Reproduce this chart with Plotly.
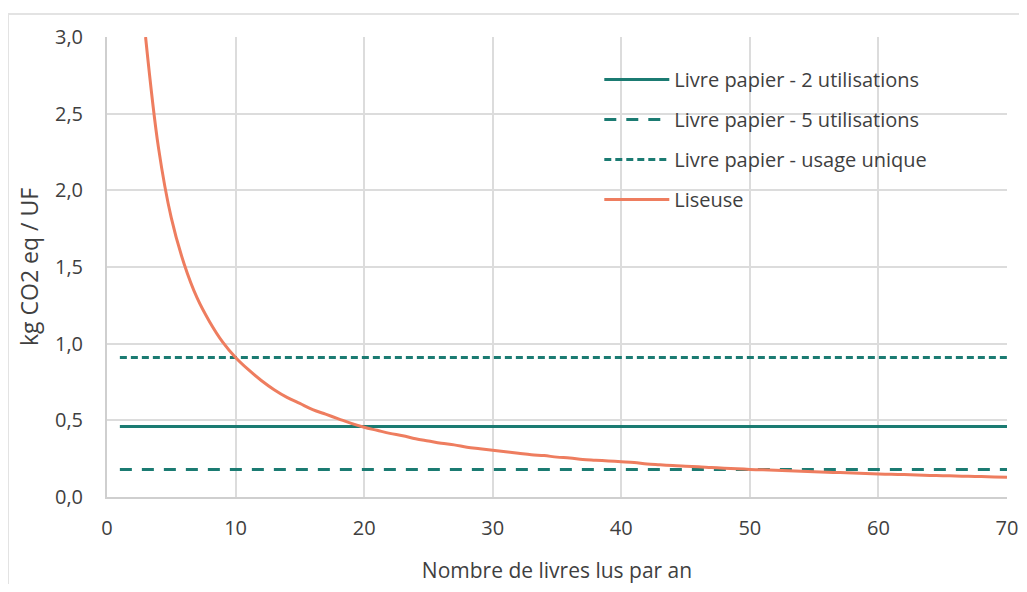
import plotly.graph_objects as go

# Data
x_ref = [1, 70]
papier_2 = [0.46, 0.46]
papier_5 = [0.18, 0.18]
papier_unique = [0.91, 0.91]

liseuse_x = list(range(3, 71))
liseuse_y = [3.00, 2.28, 1.82, 1.52, 1.30, 1.14, 1.01, 0.91, 0.83, 0.76,
             0.70, 0.65, 0.61, 0.57, 0.54, 0.51, 0.48, 0.455, 0.435, 0.415,
             0.40, 0.38, 0.365, 0.35, 0.34, 0.325, 0.315, 0.305, 0.295, 0.285,
             0.275, 0.27, 0.26, 0.255, 0.245, 0.24, 0.235, 0.23, 0.225, 0.215,
             0.21, 0.205, 0.20, 0.197, 0.192, 0.188, 0.184, 0.18, 0.177, 0.174,
             0.171, 0.168, 0.165, 0.162, 0.159, 0.156, 0.153, 0.15, 0.148, 0.146,
             0.143, 0.141, 0.139, 0.137, 0.135, 0.133, 0.131, 0.129]

y_ticks = [0, 0.5, 1.0, 1.5, 2.0, 2.5, 3.0]
y_labels = ["0,0", "0,5", "1,0", "1,5", "2,0", "2,5", "3,0"]
x_ticks = [0, 10, 20, 30, 40, 50, 60, 70]

teal = "#1b7b72"
orange = "#ee7d5f"
txt = "#3f3f3f"

fig = go.Figure()
fig.add_trace(go.Scatter(x=x_ref, y=papier_2, mode="lines", name="Livre papier - 2 utilisations",
                         line=dict(color=teal, width=3), legendgroup="a"))
fig.add_trace(go.Scatter(x=x_ref, y=papier_5, mode="lines", name="Livre papier - 5 utilisations",
                         line=dict(color=teal, width=3, dash="12px,10px"), legendgroup="b"))
fig.add_trace(go.Scatter(x=x_ref, y=papier_unique, mode="lines", name="Livre papier - usage unique",
                         line=dict(color=teal, width=3, dash="7px,4px"), legendgroup="c"))
fig.add_trace(go.Scatter(x=liseuse_x, y=liseuse_y, mode="lines", name="Liseuse",
                         line=dict(color=orange, width=3, shape="spline"), legendgroup="d"))

fig.update_layout(
    width=1011, height=576,
    margin=dict(l=99, r=12, t=29, b=87, autoexpand=False),
    paper_bgcolor="white", plot_bgcolor="white",
    font=dict(family="Open Sans", size=20, color=txt),
    showlegend=True,
    legend=dict(x=0.547, y=0.95, xanchor="left", yanchor="top",
                bgcolor="rgba(0,0,0,0)", font=dict(size=20, color=txt),
                tracegroupgap=11, itemwidth=65),
    xaxis=dict(range=[0, 70], tickvals=x_ticks, showgrid=True, gridcolor="#dcdcdc",
               gridwidth=1.5, showline=True, linecolor="#cfcfcf", linewidth=2,
               zeroline=False, ticks="", ticklabelstandoff=12, automargin=False,
               tickfont=dict(size=20, color=txt),
               title=dict(text="Nombre de livres lus par an", font=dict(size=21, color=txt),
                          standoff=28)),
    yaxis=dict(range=[0, 3.0], tickvals=y_ticks, ticktext=y_labels, showgrid=True,
               gridcolor="#dcdcdc", gridwidth=1.5, showline=True, linecolor="#cfcfcf",
               linewidth=2, zeroline=False, ticks="", ticklabelstandoff=18, automargin=False,
               tickfont=dict(size=20, color=txt),
               title=dict(text="kg CO2 eq / UF", font=dict(size=23, color=txt),
                          standoff=10)),
    shapes=[dict(type="rect", xref="paper", yref="paper", x0=-0.11, y0=-0.5,
                 x1=1.05, y1=1.05, line=dict(color="#e3e3e3", width=2), layer="below")],
)

fig.write_html("out.html")
